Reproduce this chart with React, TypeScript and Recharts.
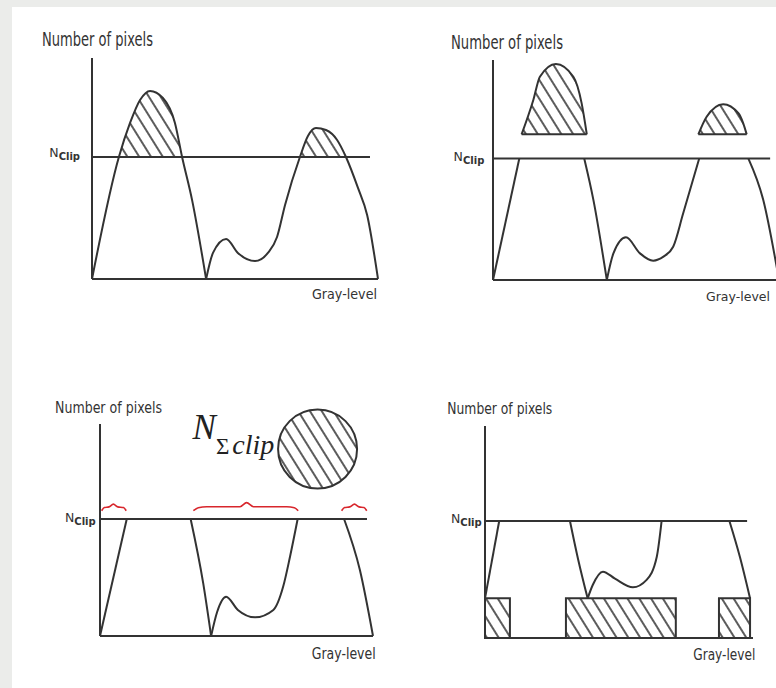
import React from "react";
import {
  ComposedChart,
  Line,
  Area,
  XAxis,
  YAxis,
  ReferenceLine,
  ReferenceArea,
  ReferenceDot,
} from "recharts";

type Pt = [number, number];
type Span = [number, number];

// Axes run 0–100 in both directions (gray level → number of pixels).

// (a) original histogram with the clip limit
const A_CLIP = 55.2;
const A_CLIP_END = 97.2;
const aPeakLeft: Pt[] = [
  [0, 0], [9.4, 55.2], [13.3, 70.6], [16.8, 81], [20.3, 85.1], [24.8, 81.9],
  [29, 70.6], [31.5, 55.2], [35, 35.7], [39.9, 0],
];
const aPeakRight: Pt[] = [
  [39.9, 0], [42.3, 11.8], [46.9, 18.1], [51, 11.8], [57, 8.1], [61.5, 11.8],
  [64.7, 19], [67.5, 33.5], [72.7, 55.2], [75.5, 64.7], [78.3, 68.3], [81.8, 67.4],
  [85.7, 62.9], [88.8, 55.2], [93, 41.2], [96.2, 29], [100, 0],
];

// (b) histogram cut at the clip limit, excess lifted off
const B_CLIP = 55.2;
const B_CLIP_END = 96.9;
const B_CAP_BASE = 66.2;
const bRise: Pt[] = [[0, 0], [9.2, 55.2]];
const bFall: Pt[] = [[31.9, 55.2], [35.1, 36.4], [39.8, 0]];
const bValley: Pt[] = [
  [39.8, 0], [42.1, 12.1], [46.5, 19.4], [51.4, 12.1], [56, 8.8], [59.6, 10.6],
  [63, 15.1], [66.5, 30.3], [72.1, 55.2],
];
const bTail: Pt[] = [[89.3, 55.2], [94.5, 36.4], [100, 0]];
const bCapLeft: Pt[] = [
  [10, 66.2], [14.1, 81.8], [16.4, 92.4], [22, 98.2], [28.1, 92.4], [31, 80.3], [32.8, 66.2],
];
const bCapRight: Pt[] = [
  [71.8, 66.2], [74.7, 74.2], [80.5, 79.9], [85.8, 75.8], [87.5, 71.2], [88.7, 66.2],
];

// (c) clipped histogram with the pooled excess and the free bins
const C_CLIP = 55.2;
const C_CLIP_END = 97.8;
const cRise: Pt[] = [[0, 0], [9.8, 55.2]];
const cFall: Pt[] = [[33.2, 55.2], [37.8, 24.9], [40.7, 0]];
const cValley: Pt[] = [
  [40.7, 0], [42.9, 11.3], [46.2, 18.5], [50.5, 12.3], [56.8, 8.8], [63.5, 12.3],
  [67.1, 23.3], [69.6, 37.4], [72.4, 55.2],
];
const cTail: Pt[] = [[89.4, 55.2], [95.2, 31.1], [100, 0]];
const cBraceLeft: Pt[] = [
  [0.6, 59.1], [1.6, 60.6], [3.3, 60.9], [4.9, 62.2], [6.5, 60.9], [8.6, 60.6], [9.6, 59.1],
];
const cBraceMid: Pt[] = [
  [34.2, 59.1], [36, 60.5], [39.1, 61], [51.3, 61], [53.7, 62.9], [56.2, 61],
  [68.4, 61], [71.2, 60.5], [72.6, 59.1],
];
const cBraceRight: Pt[] = [
  [88.5, 59.1], [89.6, 60.6], [91.5, 60.9], [93.2, 62.2], [94.9, 60.9], [96.7, 60.6], [97.7, 59.1],
];
const C_POOL = { x: 79.7, y: 88.2 };

// (d) excess redistributed as a uniform base under the histogram
const D_CLIP = 55.2;
const D_CLIP_END = 97.8;
const D_LEVEL = 18.7;
const dRise: Pt[] = [[0, 18.7], [5.3, 55.2]];
const dFall: Pt[] = [[31.7, 55.2], [34.8, 36.8], [38.3, 18.7]];
const dValley: Pt[] = [
  [38.3, 18.7], [40.2, 25], [44, 31.3], [48.5, 28], [55.2, 23.9], [60.3, 27.4],
  [64.1, 38.3], [65.9, 55.2],
];
const dTail: Pt[] = [[91.2, 55.2], [95.1, 38.3], [98.9, 18.7]];
const dBlocks: Span[] = [[0, 9.3], [30.2, 71.2], [87.3, 98.9]];

// ---------- helpers ----------
type Series = Record<string, Array<[number, number | Span]>>;

function buildRows(series: Series) {
  const byX = new Map<number, Record<string, unknown>>();
  Object.entries(series).forEach(([key, pts]) => {
    pts.forEach(([x, v]) => {
      if (!byX.has(x)) byX.set(x, { x });
      (byX.get(x) as Record<string, unknown>)[key] = v;
    });
  });
  return Array.from(byX.values()).sort((a, b) => (a.x as number) - (b.x as number));
}

const above = (pts: Pt[], base: number): Array<[number, Span]> =>
  pts.filter(([, y]) => y >= base).map(([x, y]) => [x, [base, y]]);

const onBase = (pts: Pt[], base: number): Array<[number, Span]> =>
  pts.map(([x, y]) => [x, [base, y]]);

const rowsA = buildRows({
  left: aPeakLeft,
  right: aPeakRight,
  hatchL: above(aPeakLeft, A_CLIP),
  hatchR: above(aPeakRight, A_CLIP),
});
const rowsB = buildRows({
  rise: bRise,
  fall: bFall,
  valley: bValley,
  tail: bTail,
  capL: onBase(bCapLeft, B_CAP_BASE),
  capR: onBase(bCapRight, B_CAP_BASE),
});
const rowsC = buildRows({
  rise: cRise,
  fall: cFall,
  valley: cValley,
  tail: cTail,
  braceL: cBraceLeft,
  braceM: cBraceMid,
  braceR: cBraceRight,
});
const rowsD = buildRows({ rise: dRise, fall: dFall, valley: dValley, tail: dTail });

// ---------- layout & style ----------
const W = 800;
const H = 688;
const AXIS_SIZE = 1;
const INK = "#333";
const LW = 2;
const RED = "#d8262c";
const SANS = "DejaVu Sans, Verdana, sans-serif";
const SERIF = "Liberation Serif, Times New Roman, serif";

type Box = { x0: number; x1: number; top: number; base: number };
type Titles = {
  y: { dx: number; dy: number; fs: number; len: number };
  x: { dx: number; dy: number; fs: number; len: number };
  clip: { gap: number; dy: number };
};

const boxA: Box = { x0: 92, x1: 378, top: 58, base: 279 };
const boxB: Box = { x0: 493, x1: 779, top: 60, base: 280 };
const boxC: Box = { x0: 100, x1: 373, top: 424, base: 636 };
const boxD: Box = { x0: 485, x1: 753, top: 426, base: 638 };

const titlesA: Titles = {
  y: { dx: -50, dy: -12.5, fs: 20, len: 111 },
  x: { dx: -66, dy: 20.3, fs: 14, len: 65 },
  clip: { gap: 12, dy: -0.3 },
};
const titlesB: Titles = {
  y: { dx: -42, dy: -11, fs: 20, len: 112 },
  x: { dx: -73, dy: 21, fs: 13, len: 64 },
  clip: { gap: 8.7, dy: 2.7 },
};
const titlesC: Titles = {
  y: { dx: -45, dy: -10.7, fs: 16, len: 107 },
  x: { dx: -61.3, dy: 23.3, fs: 15, len: 64 },
  clip: { gap: 4.3, dy: 2.7 },
};
const titlesD: Titles = {
  y: { dx: -37.7, dy: -11.7, fs: 15, len: 105 },
  x: { dx: -59.7, dy: 22, fs: 15, len: 62 },
  clip: { gap: 3.3, dy: 2.3 },
};

function vbOf(p: any) {
  const vb = p && p.viewBox ? p.viewBox : {};
  return {
    x: vb.x ?? vb.x1 ?? 0,
    y: vb.y ?? vb.y1 ?? 0,
    width: vb.width ?? 0,
    height: vb.height ?? 0,
  };
}

// the y-axis viewBox starts one pixel left of the plot edge
const yTitle = (t: Titles["y"]) => (p: any) => {
  const vb = vbOf(p);
  return (
    <text
      x={vb.x + vb.width + t.dx}
      y={vb.y + t.dy}
      fontSize={t.fs}
      fontFamily={SANS}
      fill={INK}
      textLength={t.len}
      lengthAdjust="spacingAndGlyphs"
    >
      Number of pixels
    </text>
  );
};

const xTitle = (t: Titles["x"]) => (p: any) => {
  const vb = vbOf(p);
  return (
    <text
      x={vb.x + vb.width + t.dx}
      y={vb.y + t.dy}
      fontSize={t.fs}
      fontFamily={SANS}
      fill={INK}
      textLength={t.len}
      lengthAdjust="spacingAndGlyphs"
    >
      Gray-level
    </text>
  );
};

const clipTitle = (t: Titles["clip"]) => (p: any) => {
  const vb = vbOf(p);
  return (
    <text x={vb.x - t.gap} y={vb.y + t.dy} textAnchor="end" fontFamily={SANS} fill={INK}>
      <tspan fontSize={12.5}>N</tspan>
      <tspan fontSize={10} fontWeight="bold" dy={3}>
        Clip
      </tspan>
    </text>
  );
};

const poolTitle = (p: any) => {
  const vb = vbOf(p);
  return (
    <text x={vb.x - 85.5} y={vb.y + 29} fontFamily={SERIF} fill="#222">
      <tspan fontStyle="italic" fontSize={35}>
        N
      </tspan>
      <tspan fontSize={23} dy={15} dx={0}>
        Σ
      </tspan>
      <tspan fontStyle="italic" fontSize={28} dx={3}>
        clip
      </tspan>
    </text>
  );
};

function Panel({
  box,
  titles,
  rows,
  clip,
  clipEnd,
  children,
}: {
  box: Box;
  titles: Titles;
  rows: Record<string, unknown>[];
  clip: number;
  clipEnd: number;
  children?: React.ReactNode;
}) {
  return (
    <div style={{ position: "absolute", left: 0, top: 0 }}>
      <ComposedChart
        width={W}
        height={H}
        data={rows}
        margin={{
          left: box.x0 - AXIS_SIZE,
          right: W - box.x1,
          top: box.top,
          bottom: H - box.base - AXIS_SIZE,
        }}
      >
        <XAxis
          type="number"
          dataKey="x"
          domain={[0, 100]}
          height={AXIS_SIZE}
          tick={false}
          tickLine={false}
          axisLine={{ stroke: INK, strokeWidth: LW }}
          label={{ content: xTitle(titles.x) }}
        />
        <YAxis
          type="number"
          domain={[0, 100]}
          width={AXIS_SIZE}
          tick={false}
          tickLine={false}
          axisLine={{ stroke: INK, strokeWidth: LW }}
          label={{ content: yTitle(titles.y) }}
        />
        {children}
        <ReferenceLine
          segment={[
            { x: 0, y: clip },
            { x: clipEnd, y: clip },
          ]}
          stroke={INK}
          strokeWidth={LW}
          label={{ content: clipTitle(titles.clip) }}
        />
      </ComposedChart>
    </div>
  );
}

const curve = (key: string, color = INK, width = LW) => (
  <Line
    key={key}
    dataKey={key}
    type="monotone"
    stroke={color}
    strokeWidth={width}
    dot={false}
    activeDot={false}
    connectNulls
    isAnimationActive={false}
  />
);

const hatchArea = (key: string, outlined: boolean) => (
  <Area
    key={key}
    dataKey={key}
    type="monotone"
    fill="url(#hatch)"
    fillOpacity={1}
    stroke={outlined ? INK : "none"}
    strokeWidth={LW}
    dot={false}
    activeDot={false}
    connectNulls
    isAnimationActive={false}
  />
);

export default function App() {
  return (
    <div
      style={{
        position: "absolute",
        left: 0,
        top: 0,
        width: 776,
        height: 688,
        overflow: "hidden",
        background: "#ebecea",
      }}
    >
      <div
        style={{
          position: "absolute",
          left: 12,
          top: 7,
          right: 0,
          bottom: 0,
          background: "#ffffff",
        }}
      />
      <svg width={0} height={0} style={{ position: "absolute" }}>
        <defs>
          <pattern
            id="hatch"
            patternUnits="userSpaceOnUse"
            width={10}
            height={10}
            patternTransform="rotate(-32)"
          >
            <rect width={10} height={10} fill="#fff" />
            <line x1={5} y1={-1} x2={5} y2={11} stroke={INK} strokeWidth={1.6} />
          </pattern>
        </defs>
      </svg>

      <Panel box={boxA} titles={titlesA} rows={rowsA} clip={A_CLIP} clipEnd={A_CLIP_END}>
        {hatchArea("hatchL", false)}
        {hatchArea("hatchR", false)}
        {curve("left")}
        {curve("right")}
      </Panel>

      <Panel box={boxB} titles={titlesB} rows={rowsB} clip={B_CLIP} clipEnd={B_CLIP_END}>
        {hatchArea("capL", true)}
        {hatchArea("capR", true)}
        {curve("rise")}
        {curve("fall")}
        {curve("valley")}
        {curve("tail")}
      </Panel>

      <Panel box={boxC} titles={titlesC} rows={rowsC} clip={C_CLIP} clipEnd={C_CLIP_END}>
        {curve("rise")}
        {curve("fall")}
        {curve("valley")}
        {curve("tail")}
        {curve("braceL", RED, 1.6)}
        {curve("braceM", RED, 1.6)}
        {curve("braceR", RED, 1.6)}
        <ReferenceDot
          x={C_POOL.x}
          y={C_POOL.y}
          r={39.5}
          fill="url(#hatch)"
          stroke={INK}
          strokeWidth={LW}
          label={{ content: poolTitle }}
        />
      </Panel>

      <Panel box={boxD} titles={titlesD} rows={rowsD} clip={D_CLIP} clipEnd={D_CLIP_END}>
        {dBlocks.map(([from, to]) => (
          <ReferenceArea
            key={`blk-${from}`}
            x1={from}
            x2={to}
            y1={0}
            y2={D_LEVEL}
            fill="url(#hatch)"
            fillOpacity={1}
            stroke={INK}
            strokeWidth={LW}
          />
        ))}
        {curve("rise")}
        {curve("fall")}
        {curve("valley")}
        {curve("tail")}
      </Panel>
    </div>
  );
}
